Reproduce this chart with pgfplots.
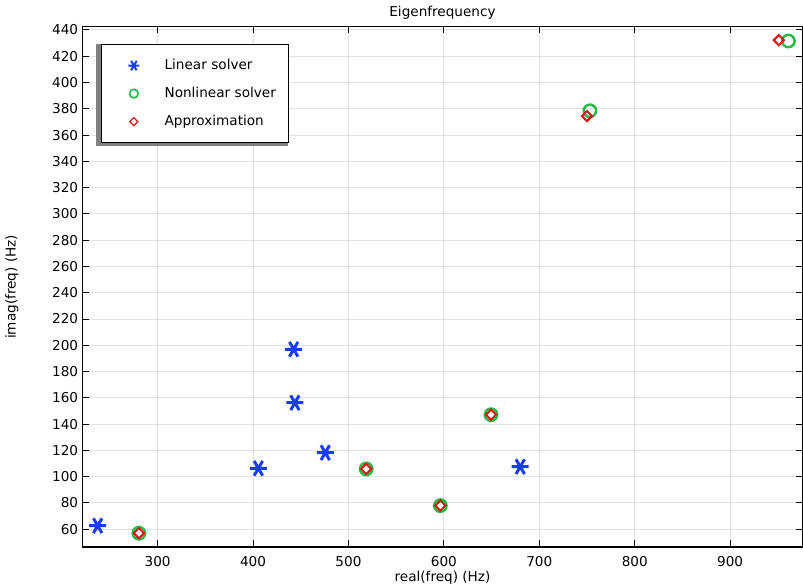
\documentclass[border=0pt]{standalone}
\usepackage{fontspec}
\setmainfont{DejaVu Sans}
\usepackage{pgfplots}
\pgfplotsset{compat=1.18}

\definecolor{cblue}{RGB}{25,60,255}
\definecolor{cgreen}{RGB}{40,185,70}
\definecolor{cred}{RGB}{220,20,20}
\definecolor{cgrid}{RGB}{225,225,225}
\definecolor{cshadow}{RGB}{128,128,128}

\begin{document}
\fontsize{13.6}{16}\selectfont
\begin{tikzpicture}[x=1pt,y=1pt]
\begin{axis}[
    at={(82.7pt,39pt)}, anchor=south west,
    scale only axis,
    width=719.6pt, height=520.3pt,
    xmin=221.5, xmax=975.6,
    ymin=46.5, ymax=442.5,
    xtick={300,400,...,900},
    ytick={60,80,...,440},
    tick align=inside,
    major tick length=6.5pt,
    tick style={black, line width=1pt},
    axis line style={black, line width=1.2pt},
    grid=major,
    grid style={cgrid, line width=1pt},
    /pgf/number format/assume math mode=true,
    xticklabel style={anchor=base, yshift=-19.7pt},
    yticklabel style={anchor=east, xshift=-4.4pt, inner sep=0pt},
    title={Eigenfrequency},
    title style={at={(axis description cs:0.5,1)}, anchor=base, yshift=4pt, inner sep=0pt},
    xlabel={real(freq) (Hz)},
    xlabel style={at={(axis description cs:0.5,0)}, anchor=base, yshift=-35pt, inner sep=0pt},
    ylabel={imag(freq) (Hz)},
    ylabel style={at={(axis description cs:-0.0983,0.5)}, anchor=center, inner sep=0pt},
    legend cell align=left,
    legend style={
        at={(axis description cs:0.025,0.9667)}, anchor=north west,
        draw=black, line width=1.2pt, fill=white,
        inner xsep=0pt, inner ysep=7pt,
        nodes={inner sep=0pt, minimum height=28pt, text width=124.3pt, align=left},
    },
    legend image code/.code={
        \pgfpathrectangle{\pgfpoint{0pt}{-5pt}}{\pgfpoint{63.3pt}{10pt}}
        \pgfusepath{discard}
        \draw[#1] plot coordinates {(32.6pt,0pt)};
    },
]
% legend shadow
\fill[cshadow] (axis description cs:0.01848,0.96675) rectangle (axis description cs:0.2857,0.7707);
% Linear solver
\addplot[only marks, mark=asterisk, mark size=8.5pt, line width=3pt, color=cblue,
    mark options={rotate=90},
    legend image post style={mark size=5.5pt, line width=2pt}] coordinates {
    (237.2,62.7) (405.6,106.4) (442.6,197.0) (443.9,156.3) (475.7,118.3) (680.0,107.6)
};
\addlegendentry{Linear solver}
% Nonlinear solver
\addplot[only marks, mark=o, mark size=6.2pt, line width=2.5pt, color=cgreen,
    legend image post style={mark size=4.3pt, line width=1.6pt}] coordinates {
    (280.4,57.0) (518.6,105.9) (596.3,78.0) (649.4,147.2) (753.0,378.5) (961.0,431.6)
};
\addlegendentry{Nonlinear solver}
% Approximation
\addplot[only marks, mark=square, mark size=3.6pt, line width=2pt, color=cred,
    mark options={rotate=45},
    legend image post style={mark size=2.8pt, line width=1.2pt}] coordinates {
    (280.4,57.0) (518.6,105.9) (596.3,78.0) (649.4,147.2) (750.0,374.5) (951.0,432.3)
};
\addlegendentry{Approximation}
\end{axis}
\pgfresetboundingbox
\path[use as bounding box] (0pt,0pt) rectangle (803pt,586pt);
\end{tikzpicture}
\end{document}
